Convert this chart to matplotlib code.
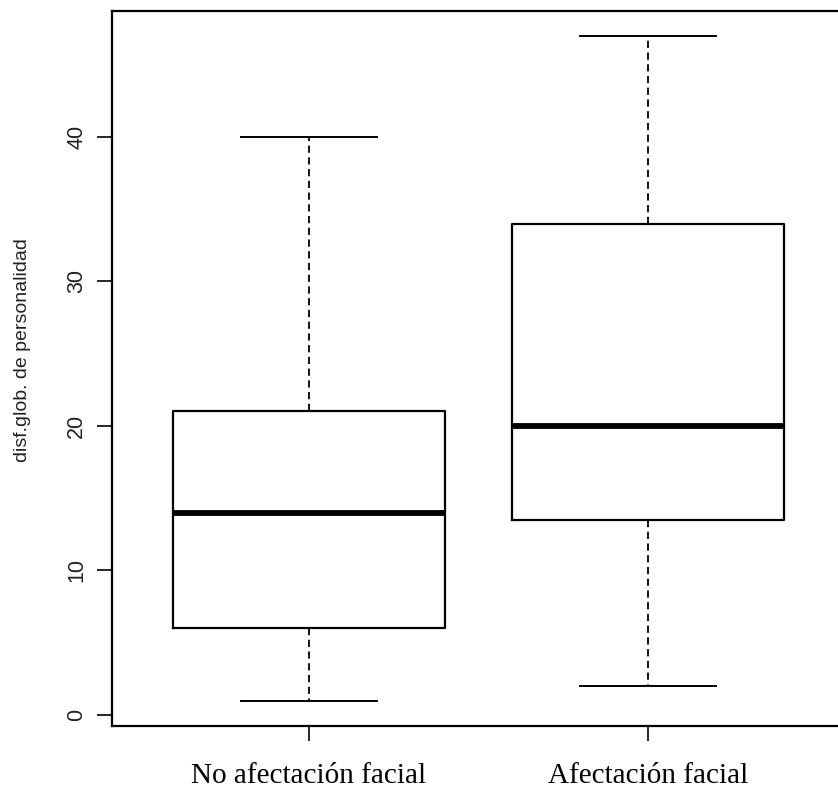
import matplotlib
matplotlib.use("Agg")
import matplotlib.pyplot as plt

# Box statistics
groups = ["No afectación facial", "Afectación facial"]
whisker_low = [1, 2]
q1 = [6, 13.5]
median = [14, 20]
q3 = [21, 34]
whisker_high = [40, 47]
y_ticks = [0, 10, 20, 30, 40]
y_label = "disf.glob. de personalidad"

W, H = 838, 791
fig = plt.figure(figsize=(W / 100, H / 100), dpi=100)
fig.patch.set_facecolor("white")

# axes frame runs past the right edge of the image, as in the reference
left, right, top, bottom = 112, 845, 11, 726
ax = fig.add_axes([left / W, 1 - bottom / H, (right - left) / W, (bottom - top) / H])

stats = []
for i in range(len(groups)):
    stats.append({
        "whislo": whisker_low[i], "q1": q1[i], "med": median[i],
        "q3": q3[i], "whishi": whisker_high[i], "fliers": [],
    })

ax.bxp(stats, positions=[1, 2], widths=0.8, capwidths=0.4, showfliers=False,
       boxprops=dict(color="black", linewidth=1.6),
       medianprops=dict(color="black", linewidth=4.2, solid_capstyle="butt"),
       whiskerprops=dict(color="black", linewidth=1.3, linestyle=(0, (4, 2.5))),
       capprops=dict(color="black", linewidth=1.4))

ax.set_xlim(0.42, 2.58)
ax.set_ylim(-0.76, 48.7)

for s in ax.spines.values():
    s.set_linewidth(1.6)

ax.set_xticks([1, 2])
ax.set_xticklabels(groups, fontfamily="Liberation Serif", fontsize=21)
ax.set_yticks(y_ticks)
ax.set_yticklabels([str(v) for v in y_ticks], rotation=90, va="center",
                   fontfamily="Liberation Sans", fontsize=15.5, color="#222222")
ax.tick_params(axis="both", length=10.5, width=1.2, direction="out")
ax.tick_params(axis="x", pad=16)
ax.tick_params(axis="y", pad=7.5)

ax.set_ylabel(y_label, fontfamily="Liberation Sans", fontsize=14, color="#222222")
ax.yaxis.set_label_coords((31 - left) / (right - left), (bottom - 350) / (bottom - top))

fig.savefig("out.png", dpi=100, facecolor="white")
